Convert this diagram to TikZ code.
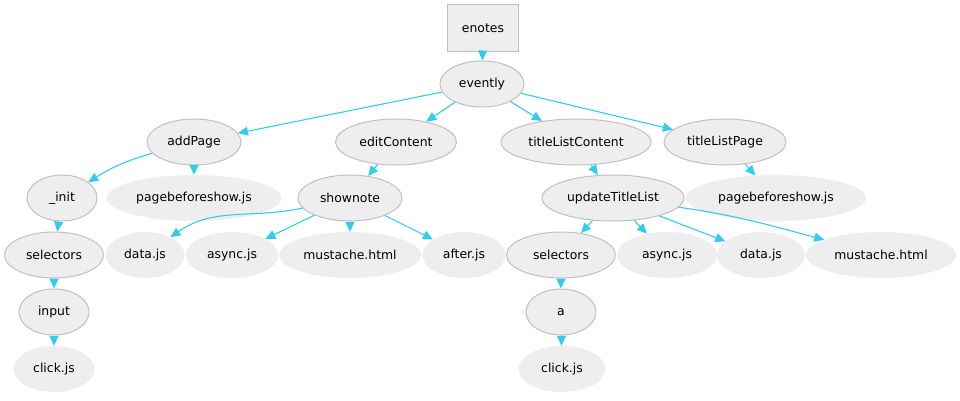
\documentclass[tikz,border=0pt]{standalone}
\usepackage{fontspec}
\setmainfont{DejaVu Sans}
\usetikzlibrary{shapes.geometric}
\usetikzlibrary{arrows.meta}
\definecolor{nodefill}{HTML}{EEEEEE}
\definecolor{nodeline}{HTML}{C0C0C0}
\definecolor{linkcyan}{HTML}{33CCEE}
\begin{document}
\begin{tikzpicture}[x=1pt, y=-1pt,
          every node/.style={font=\fontsize{12.4}{14}\selectfont, fill=nodefill, inner sep=0pt, minimum height=46pt},
          call/.style={ellipse, draw=nodeline, line width=1pt},
          leaf/.style={ellipse},
          every edge/.style={draw=linkcyan, line width=1.1pt, -{Triangle[length=10pt,width=9pt]}}]
          \useasboundingbox (0,0) rectangle (960,400);

          \node[rectangle, draw=nodeline, line width=0.8pt, minimum width=71pt, minimum height=47pt] (enotes) at (483,28) {enotes};
          \node[call, minimum width=84pt] (evently) at (482,84) {evently};

          \node[call, minimum width=94pt] (addPage) at (194,142) {addPage};
          \node[call, minimum width=121pt] (editContent) at (396,142) {editContent};
          \node[call, minimum width=150pt] (titleListContent) at (576,142) {titleListContent};
          \node[call, minimum width=122pt] (titleListPage) at (725,142) {titleListPage};

          \node[call, minimum width=70pt] (init) at (62,198) {\_init};
          \node[leaf, minimum width=175pt] (showA) at (194,198) {pagebeforeshow.js};
          \node[call, minimum width=104pt] (shownote) at (350,198) {shownote};
          \node[call, minimum width=142pt] (updateTitleList) at (613,198) {updateTitleList};
          \node[leaf, minimum width=180pt] (showB) at (776,198) {pagebeforeshow.js};

          \node[call, minimum width=99pt] (selA) at (54,255) {selectors};
          \node[leaf, minimum width=79pt] (dataA) at (145,255) {data.js};
          \node[leaf, minimum width=92pt] (asyncA) at (232,255) {async.js};
          \node[leaf, minimum width=142pt] (mustA) at (350,255) {mustache.html};
          \node[leaf, minimum width=83pt] (after) at (464,255) {after.js};
          \node[call, minimum width=109pt] (selB) at (561,255) {selectors};
          \node[leaf, minimum width=100pt] (asyncB) at (667,255) {async.js};
          \node[leaf, minimum width=88pt] (dataB) at (761,255) {data.js};
          \node[leaf, minimum width=150pt] (mustB) at (881,255) {mustache.html};

          \node[call, minimum width=70pt] (input) at (54,312) {input};
          \node[call, minimum width=70pt] (a) at (561,312) {a};

          \node[leaf, minimum width=81pt] (clickA) at (54,369) {click.js};
          \node[leaf, minimum width=87pt] (clickB) at (562,369) {click.js};

          \draw
          (enotes) edge (evently)
          (evently) edge (addPage)
          (evently) edge (editContent)
          (evently) edge (titleListContent)
          (evently) edge (titleListPage)
          (addPage) edge[bend right=8] (init)
          (addPage) edge (showA)
          (editContent) edge (shownote)
          (titleListContent) edge (updateTitleList)
          (titleListPage) edge (showB)
          (init) edge (selA)
          (selA) edge (input)
          (input) edge (clickA)
          (shownote) edge[out=192, in=35] (dataA)
          (shownote) edge (asyncA)
          (shownote) edge (mustA)
          (shownote) edge (after)
          (updateTitleList) edge (selB)
          (updateTitleList) edge (asyncB)
          (updateTitleList) edge (dataB)
          (updateTitleList) edge[out=-8, in=165] (mustB)
          (selB) edge (a)
          (a) edge (clickB);
        \end{tikzpicture}
\end{document}
